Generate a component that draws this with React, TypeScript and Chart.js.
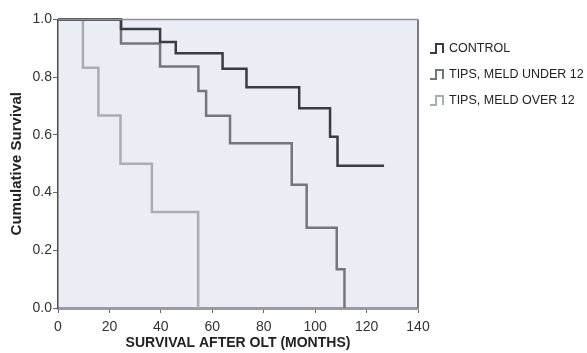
import React, { useEffect, useRef } from 'react';
import { Chart, registerables } from 'chart.js';

Chart.register(...registerables);

const seriesLabels = ['CONTROL', 'TIPS, MELD UNDER 12', 'TIPS, MELD OVER 12'];
const seriesColors = ['#3a3c41', '#72767d', '#aaadb3'];

const controlMonths = [0, 24.5, 39.7, 45.8, 64, 73.3, 93.8, 105.8, 108.7, 126.8];
const controlSurvival = [1, 0.967, 0.922, 0.883, 0.829, 0.765, 0.692, 0.594, 0.493, 0.493];

const meldUnderMonths = [0, 24.5, 39.7, 54.6, 57.6, 66.9, 90.9, 96.7, 108.4, 111.4];
const meldUnderSurvival = [1, 0.917, 0.837, 0.752, 0.666, 0.571, 0.427, 0.278, 0.134, 0];

const meldOverMonths = [0, 9.7, 15.7, 24.3, 36.5, 54.5];
const meldOverSurvival = [1, 0.833, 0.667, 0.5, 0.333, 0];

const xTickValues = [0, 20, 40, 60, 80, 100, 120, 140];
const yTickValues = [0, 0.2, 0.4, 0.6, 0.8, 1.0];

const xTitle = 'SURVIVAL AFTER OLT (MONTHS)';
const yTitle = 'Cumulative Survival';

const toPoints = (xs: number[], ys: number[]) => xs.map((x, i) => ({ x, y: ys[i] }));

const frameBackground = {
  id: 'frameBackground',
  beforeDraw(chart: any) {
    const { ctx, chartArea: a } = chart;
    ctx.save();
    ctx.fillStyle = '#eaedf4';
    ctx.fillRect(a.left, a.top, a.right - a.left, a.bottom - a.top);
    ctx.restore();
  },
  afterDatasetsDraw(chart: any) {
    const { ctx, chartArea: a } = chart;
    ctx.save();
    ctx.strokeStyle = '#8e9096';
    ctx.lineWidth = 1.5;
    ctx.beginPath();
    ctx.moveTo(a.left, a.top);
    ctx.lineTo(a.right, a.top);
    ctx.stroke();
    ctx.strokeStyle = '#7a7c82';
    ctx.lineWidth = 2;
    ctx.beginPath();
    ctx.moveTo(a.right, a.top);
    ctx.lineTo(a.right, a.bottom);
    ctx.stroke();
    ctx.restore();
  },
};

const stepLegend = {
  id: 'stepLegend',
  afterDraw(chart: any) {
    const { ctx } = chart;
    const x0 = 430;
    const y0 = 48;
    const step = 26;
    ctx.save();
    chart.data.datasets.forEach((ds: any, i: number) => {
      const cy = y0 + i * step;
      ctx.strokeStyle = ds.borderColor;
      ctx.lineWidth = 2;
      ctx.beginPath();
      ctx.moveTo(x0, cy + 5);
      ctx.lineTo(x0 + 6, cy + 5);
      ctx.lineTo(x0 + 6, cy - 4);
      ctx.lineTo(x0 + 13, cy - 4);
      ctx.lineTo(x0 + 13, cy + 5);
      ctx.stroke();
      ctx.fillStyle = '#222';
      ctx.font = '12.5px "Liberation Sans", Arial, sans-serif';
      ctx.textBaseline = 'middle';
      ctx.textAlign = 'left';
      ctx.fillText(ds.label, x0 + 19, cy + 1);
    });
    ctx.restore();
  },
};

export default function App() {
  const canvasRef = useRef<HTMLCanvasElement | null>(null);

  useEffect(() => {
    document.body.style.margin = '0';
    const canvas = canvasRef.current;
    if (!canvas) return;
    const font = '"Liberation Sans", Arial, sans-serif';
    const chart = new Chart(canvas, {
      type: 'line',
      data: {
        datasets: [
          { label: seriesLabels[0], data: toPoints(controlMonths, controlSurvival) },
          { label: seriesLabels[1], data: toPoints(meldUnderMonths, meldUnderSurvival) },
          { label: seriesLabels[2], data: toPoints(meldOverMonths, meldOverSurvival) },
        ].map((d, i) => ({
          ...d,
          borderColor: seriesColors[i],
          backgroundColor: seriesColors[i],
          borderWidth: 2.5,
          pointRadius: 0,
          stepped: 'before' as const,
          fill: false,
          clip: false as any,
        })),
      },
      options: {
        animation: false,
        responsive: false,
        devicePixelRatio: 1,
        layout: { padding: { top: 19.5, right: 169, bottom: 0, left: 0 } },
        plugins: {
          legend: { display: false },
          tooltip: { enabled: false },
        },
        scales: {
          x: {
            type: 'linear',
            min: 0,
            max: 140,
            afterBuildTicks: (scale: any) => {
              scale.ticks = xTickValues.map((v) => ({ value: v }));
            },
            afterFit: (scale: any) => {
              scale.height = 45;
            },
            ticks: {
              font: { family: font, size: 14 },
              color: '#333',
              padding: 6,
              maxRotation: 0,
              callback: (v: any) => String(v),
            },
            grid: { drawOnChartArea: false, drawTicks: true, tickLength: 5, color: '#666' },
            border: { display: true, color: '#9a9ca2', width: 3 },
            title: {
              display: true,
              text: xTitle,
              font: { family: font, size: 14, weight: 'bold' },
              color: '#222',
              padding: { top: 0, bottom: 1 },
            },
          },
          y: {
            type: 'linear',
            min: 0,
            max: 1,
            afterBuildTicks: (scale: any) => {
              scale.ticks = yTickValues.map((v) => ({ value: v }));
            },
            afterFit: (scale: any) => {
              scale.width = 58;
            },
            ticks: {
              font: { family: font, size: 14 },
              color: '#333',
              padding: 1,
              callback: (v: any) => Number(v).toFixed(1),
            },
            grid: { drawOnChartArea: false, drawTicks: true, tickLength: 5, color: '#666' },
            border: { display: true, color: '#4a4c50', width: 1.5 },
            title: {
              display: true,
              text: yTitle,
              font: { family: font, size: 15, weight: 'bold' },
              color: '#222',
              padding: { top: 8, bottom: 0 },
            },
          },
        },
      },
      plugins: [frameBackground, stepLegend],
    });
    return () => chart.destroy();
  }, []);

  return (
    <div style={{ position: 'absolute', left: 0, top: 0, width: 587, height: 353, background: '#fff' }}>
      <canvas ref={canvasRef} width={587} height={353} />
    </div>
  );
}
